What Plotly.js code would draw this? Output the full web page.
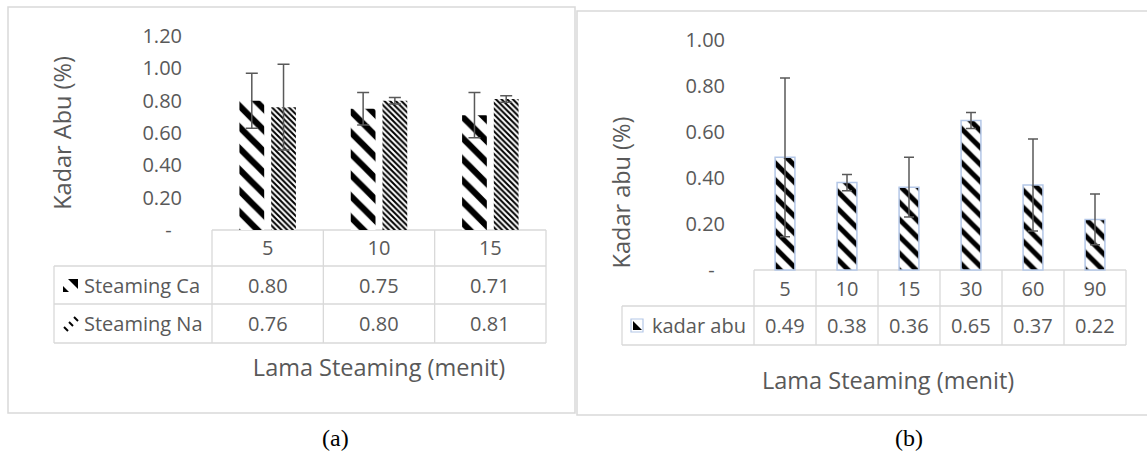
<!DOCTYPE html>
<html><head><meta charset="utf-8">
<script src="https://cdn.plot.ly/plotly-3.0.1.min.js"></script>
<style>html,body{margin:0;padding:0;background:#fff}</style>
</head><body><div id="chart" style="width:1147px;height:454px"></div>
<script>
// ---------- data ----------
const catsA = ['5', '10', '15'];
const caName = 'Steaming Ca';
const caValues = [0.80, 0.75, 0.71];
const caErrors = [0.17, 0.10, 0.14];
const naName = 'Steaming Na';
const naValues = [0.76, 0.80, 0.81];
const naErrors = [0.265, 0.02, 0.02];
const yTicksA = [0, 0.2, 0.4, 0.6, 0.8, 1.0, 1.2];

const catsB = ['5', '10', '15', '30', '60', '90'];
const abuName = 'kadar abu';
const abuValues = [0.49, 0.38, 0.36, 0.65, 0.37, 0.22];
const abuErrors = [0.345, 0.035, 0.13, 0.035, 0.20, 0.11];
const yTicksB = [0, 0.2, 0.4, 0.6, 0.8, 1.0];

const xTitle = 'Lama Steaming (menit)';
const yTitleA = 'Kadar Abu (%)';
const yTitleB = 'Kadar abu (%)';
const panelLabels = ['(a)', '(b)'];

// ---------- helpers ----------
const W = 1147, H = 454;
const fx = p => p / W, fy = p => 1 - p / H;
const TXT = '#595959', GRID = '#d9d9d9', FONT = 'Open Sans, sans-serif', FS = 20, TFS = 23.5;
const fmt = v => v.toFixed(2);
const tickText = arr => arr.map(v => v === 0 ? '-\u00a0\u00a0' : fmt(v));
function seg(x0, y0, x1, y1, color, w) {
  return {type: 'line', xref: 'paper', yref: 'paper', x0: fx(x0), y0: fy(y0), x1: fx(x1), y1: fy(y1),
          line: {color: color || GRID, width: w || 1.3}, layer: 'below'};
}
function pathShape(pts, fill, lineColor, lw) {
  const d = pts.map((p, i) => (i ? 'L' : 'M') + fx(p[0]) + ',' + fy(p[1])).join(' ') + ' Z';
  return {type: 'path', xref: 'paper', yref: 'paper', path: d, fillcolor: fill,
          line: {color: lineColor || fill, width: lw || 0}};
}
function txt(text, x, y, xref, opts) {
  return Object.assign({text: text, x: x, y: y, xref: xref, yref: 'paper', showarrow: false,
          xanchor: 'center', yanchor: 'middle', font: {family: FONT, size: FS, color: TXT}}, opts || {});
}

// ---------- geometry (pixels) ----------
const A = {left: 212, right: 546, zeroY: 230, topY: 36, legL: 54, rows: [230, 266, 304, 343]};
const B = {left: 754, right: 1126, zeroY: 270, topY: 40, legL: 622, rows: [270, 306, 345]};

// ---------- traces ----------
const errStyle = {color: TXT, thickness: 1.5};
const traces = [
  {type: 'bar', name: caName, x: catsA, y: caValues, xaxis: 'x', yaxis: 'y',
   marker: {color: 'white', pattern: {shape: '\\', size: 15, solidity: 0.42, fgcolor: '#000', bgcolor: '#fff'}},
   error_y: Object.assign({type: 'data', array: caErrors, width: 6}, errStyle), showlegend: false},
  {type: 'bar', name: naName, x: catsA, y: naValues, xaxis: 'x', yaxis: 'y',
   marker: {color: 'white', pattern: {shape: '\\', size: 4, solidity: 0.5, fgcolor: '#000', bgcolor: '#fff'}},
   error_y: Object.assign({type: 'data', array: naErrors, width: 6}, errStyle), showlegend: false},
  {type: 'bar', name: abuName, x: catsB, y: abuValues, xaxis: 'x2', yaxis: 'y2', width: 0.32,
   marker: {color: 'white', line: {color: '#b4c7e7', width: 1.5},
            pattern: {shape: '\\', size: 12, solidity: 0.42, fgcolor: '#000', bgcolor: '#fff'}},
   error_y: Object.assign({type: 'data', array: abuErrors, width: 5}, errStyle), showlegend: false}
];

// ---------- shapes: panel borders + data tables ----------
const shapes = [];
shapes.push({type: 'rect', xref: 'paper', yref: 'paper', x0: fx(8), x1: fx(575), y0: fy(413), y1: fy(7),
             line: {color: GRID, width: 1.5}, layer: 'below'});
shapes.push({type: 'rect', xref: 'paper', yref: 'paper', x0: fx(577), x1: fx(1160), y0: fy(415), y1: fy(11),
             line: {color: GRID, width: 1.5}, layer: 'below'});
// table (a)
(function () {
  const n = catsA.length, cw = (A.right - A.left) / n, r = A.rows;
  shapes.push(seg(A.left, r[0], A.right, r[0]));
  for (let k = 1; k < r.length; k++) shapes.push(seg(A.legL, r[k], A.right, r[k]));
  shapes.push(seg(A.legL, r[1], A.legL, r[3]));
  for (let i = 0; i <= n; i++) shapes.push(seg(A.left + i * cw, r[0], A.left + i * cw, r[3]));
})();
// table (b)
(function () {
  const n = catsB.length, cw = (B.right - B.left) / n, r = B.rows;
  shapes.push(seg(B.left, r[0], B.right, r[0]));
  for (let k = 1; k < r.length; k++) shapes.push(seg(B.legL, r[k], B.right, r[k]));
  shapes.push(seg(B.legL, r[1], B.legL, r[2]));
  for (let i = 0; i <= n; i++) shapes.push(seg(B.left + i * cw, r[0], B.left + i * cw, r[2]));
})();
// legend keys
shapes.push(pathShape([[68, 279], [78, 279], [78, 289]], '#000'));
shapes.push(pathShape([[63, 286], [69, 292], [63, 292]], '#000'));
[[64, 327], [69, 322], [74, 317]].forEach(p => {
  shapes.push({type: 'line', xref: 'paper', yref: 'paper', x0: fx(p[0]), y0: fy(p[1]), x1: fx(p[0] + 4), y1: fy(p[1] + 4),
               line: {color: '#000', width: 2}});
});
shapes.push({type: 'rect', xref: 'paper', yref: 'paper', x0: fx(631), x1: fx(643), y0: fy(332), y1: fy(319),
             line: {color: '#b4c7e7', width: 1.2}, fillcolor: '#fff'});
shapes.push(pathShape([[633, 321], [633, 330], [642, 330]], '#000'));

// ---------- annotations ----------
const ann = [];
const rowYA = [(A.rows[1] + A.rows[2]) / 2, (A.rows[2] + A.rows[3]) / 2];
catsA.forEach((c, i) => {
  ann.push(txt(fmt(caValues[i]), i, fy(rowYA[0]), 'x'));
  ann.push(txt(fmt(naValues[i]), i, fy(rowYA[1]), 'x'));
});
ann.push(txt(caName, fx(82), fy(rowYA[0]), 'paper', {xanchor: 'left'}));
ann.push(txt(naName, fx(82), fy(rowYA[1]), 'paper', {xanchor: 'left'}));
const rowYB = (B.rows[1] + B.rows[2]) / 2;
catsB.forEach((c, i) => ann.push(txt(fmt(abuValues[i]), i, fy(rowYB), 'x2')));
ann.push(txt(abuName, fx(650), fy(rowYB), 'paper', {xanchor: 'left'}));
ann.push(txt(xTitle, fx(888), fy(380), 'paper', {font: {family: FONT, size: TFS, color: TXT}}));
ann.push(txt(panelLabels[0], fx(335), fy(438), 'paper', {font: {family: 'Liberation Serif, serif', size: 24, color: '#000'}}));
ann.push(txt(panelLabels[1], fx(909), fy(438), 'paper', {font: {family: 'Liberation Serif, serif', size: 24, color: '#000'}}));

// ---------- axes ----------
const tf = {family: FONT, size: FS, color: TXT};
const ttf = {family: FONT, size: TFS, color: TXT};
const baseAx = {showgrid: false, zeroline: false, showline: false, ticks: '', tickfont: tf, fixedrange: true};
const layout = {
  width: W, height: H, margin: {l: 0, r: 0, t: 0, b: 0},
  paper_bgcolor: '#fff', plot_bgcolor: 'rgba(0,0,0,0)',
  font: {family: FONT, color: TXT},
  barmode: 'group', bargap: 0.43, bargroupgap: 0.22, showlegend: false,
  xaxis: Object.assign({}, baseAx, {domain: [fx(A.left), fx(A.right)], anchor: 'y', type: 'category',
          range: [-0.5, catsA.length - 0.5], ticklabelstandoff: 4,
          title: {text: xTitle, font: ttf, standoff: 99}}),
  yaxis: Object.assign({}, baseAx, {domain: [fy(A.zeroY), fy(A.topY)], anchor: 'x',
          range: [0, yTicksA[yTicksA.length - 1]], tickvals: yTicksA, ticktext: tickText(yTicksA),
          ticklabelstandoff: 29, title: {text: yTitleA, font: ttf, standoff: 64}}),
  xaxis2: Object.assign({}, baseAx, {domain: [fx(B.left), fx(B.right)], anchor: 'free', position: fy(B.zeroY),
          type: 'category', range: [-0.5, catsB.length - 0.5], ticklabelstandoff: 5}),
  yaxis2: Object.assign({}, baseAx, {domain: [fy(B.rows[2]), fy(B.topY)], anchor: 'x2',
          range: [-(B.rows[2] - B.zeroY) / (B.zeroY - B.topY) * yTicksB[yTicksB.length - 1], yTicksB[yTicksB.length - 1]],
          tickvals: yTicksB, ticktext: tickText(yTicksB),
          ticklabelstandoff: 28, title: {text: yTitleB, font: ttf, standoff: 48}}),
  shapes: shapes, annotations: ann
};
Plotly.newPlot('chart', traces, layout, {staticPlot: true, displayModeBar: false});
</script></body></html>
